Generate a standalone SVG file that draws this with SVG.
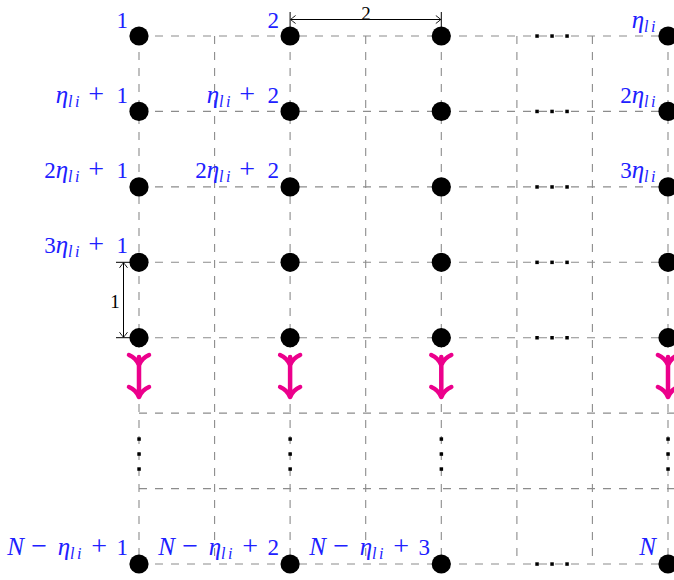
<svg xmlns="http://www.w3.org/2000/svg" width="674" height="580" viewBox="0 0 674 580">
<style>
.grid{stroke:#8c8c8c;stroke-width:1.1;stroke-dasharray:8 8;fill:none}
.node{fill:#000}
.lbl{font-family:"Liberation Serif",serif;font-size:23px;fill:#2020ff;text-anchor:end}
.it{font-style:italic;font-size:25px}
.op{font-size:28px}
.sub{font-style:italic;font-size:16px;letter-spacing:2.5px}
.dim{stroke:#000;stroke-width:1;fill:none}
.dlbl{font-family:"Liberation Serif",serif;font-size:19px;fill:#000;text-anchor:middle}
.arr{stroke:#ec008c;stroke-width:4.5;fill:none;stroke-linecap:round;stroke-linejoin:round}
.dot{fill:#000}
</style>
<defs>
<marker id="to" viewBox="-6 -5 8 10" markerWidth="8" markerHeight="10" refX="0" refY="0" orient="auto-start-reverse" markerUnits="userSpaceOnUse">
<path d="M-5,-4 Q-1,-1 0,0 Q-1,1 -5,4" stroke="#000" stroke-width="0.9" fill="none"/>
</marker>
</defs>
<g id="grid">
<path class="grid" d="M139,36H674M139,111.4H674M139,186.9H674M139,262.3H674M139,337.7H674M139,413.1H674M139,488.6H674M139,564H674"/>
<path class="grid" d="M139,36V564M214.6,36V564M290.1,36V564M365.7,36V564M441.3,36V564M516.9,36V564M592.4,36V564M668,36V564"/>
</g>
<g id="ellipses">
<rect class="dot" x="535.3" y="34.3" width="3.5" height="3.5"/><rect class="dot" x="550.3" y="34.3" width="3.5" height="3.5"/><rect class="dot" x="565.3" y="34.3" width="3.5" height="3.5"/>
<rect class="dot" x="535.3" y="109.7" width="3.5" height="3.5"/><rect class="dot" x="550.3" y="109.7" width="3.5" height="3.5"/><rect class="dot" x="565.3" y="109.7" width="3.5" height="3.5"/>
<rect class="dot" x="535.3" y="185.2" width="3.5" height="3.5"/><rect class="dot" x="550.3" y="185.2" width="3.5" height="3.5"/><rect class="dot" x="565.3" y="185.2" width="3.5" height="3.5"/>
<rect class="dot" x="535.3" y="260.6" width="3.5" height="3.5"/><rect class="dot" x="550.3" y="260.6" width="3.5" height="3.5"/><rect class="dot" x="565.3" y="260.6" width="3.5" height="3.5"/>
<rect class="dot" x="535.3" y="336" width="3.5" height="3.5"/><rect class="dot" x="550.3" y="336" width="3.5" height="3.5"/><rect class="dot" x="565.3" y="336" width="3.5" height="3.5"/>
<rect class="dot" x="535.3" y="562.3" width="3.5" height="3.5"/><rect class="dot" x="550.3" y="562.3" width="3.5" height="3.5"/><rect class="dot" x="565.3" y="562.3" width="3.5" height="3.5"/>
<rect class="dot" x="137.3" y="437.3" width="3.5" height="3.5"/><rect class="dot" x="137.3" y="452.3" width="3.5" height="3.5"/><rect class="dot" x="137.3" y="467.3" width="3.5" height="3.5"/>
<rect class="dot" x="288.4" y="437.3" width="3.5" height="3.5"/><rect class="dot" x="288.4" y="452.3" width="3.5" height="3.5"/><rect class="dot" x="288.4" y="467.3" width="3.5" height="3.5"/>
<rect class="dot" x="439.6" y="437.3" width="3.5" height="3.5"/><rect class="dot" x="439.6" y="452.3" width="3.5" height="3.5"/><rect class="dot" x="439.6" y="467.3" width="3.5" height="3.5"/>
<rect class="dot" x="666.3" y="437.3" width="3.5" height="3.5"/><rect class="dot" x="666.3" y="452.3" width="3.5" height="3.5"/><rect class="dot" x="666.3" y="467.3" width="3.5" height="3.5"/>
</g>
<g id="connectors">
<path class="arr" d="M139,357V395M129,355Q136,358 139,365Q142,358 149,355M129,387Q136,390 139,397Q142,390 149,387"/>
<path class="arr" d="M290.1,357V395M280.1,355Q287.1,358 290.1,365Q293.1,358 300.1,355M280.1,387Q287.1,390 290.1,397Q293.1,390 300.1,387"/>
<path class="arr" d="M441.3,357V395M431.3,355Q438.3,358 441.3,365Q444.3,358 451.3,355M431.3,387Q438.3,390 441.3,397Q444.3,390 451.3,387"/>
<path class="arr" d="M668,357V395M658,355Q665,358 668,365Q671,358 678,355M658,387Q665,390 668,397Q671,390 678,387"/>
</g>
<g id="dimensions">
<path class="dim" d="M290.1,12V27M441.3,12V27"/>
<path class="dim" d="M290.6,19.5H440.8" marker-start="url(#to)" marker-end="url(#to)"/>
<text class="dlbl" x="366" y="20">2</text>
<path class="dim" d="M116,262.3H131M116,337.7H131"/>
<path class="dim" d="M123.5,262.8V337.2" marker-start="url(#to)" marker-end="url(#to)"/>
<text class="dlbl" x="115" y="308">1</text>
</g>
<g id="n1"><circle class="node" cx="139" cy="36" r="9.6"/><text class="lbl" x="128" y="28">1</text></g>
<g id="n2"><circle class="node" cx="290.1" cy="36" r="9.6"/><text class="lbl" x="279" y="28">2</text></g>
<g id="n3"><circle class="node" cx="441.3" cy="36" r="9.6"/></g>
<g id="n4"><circle class="node" cx="668" cy="36" r="9.6"/><text class="lbl" x="658" y="28"><tspan class="it">η</tspan><tspan class="sub" dy="4">li</tspan></text></g>
<g id="n5"><circle class="node" cx="139" cy="111.4" r="9.6"/><text class="lbl" y="103"><tspan x="82"><tspan class="it">η</tspan><tspan class="sub" dy="4">li</tspan></tspan><tspan x="104" y="103" class="op">+</tspan><tspan x="128">1</tspan></text></g>
<g id="n6"><circle class="node" cx="290.1" cy="111.4" r="9.6"/><text class="lbl" y="103"><tspan x="233"><tspan class="it">η</tspan><tspan class="sub" dy="4">li</tspan></tspan><tspan x="255" y="103" class="op">+</tspan><tspan x="279">2</tspan></text></g>
<g id="n7"><circle class="node" cx="441.3" cy="111.4" r="9.6"/></g>
<g id="n8"><circle class="node" cx="668" cy="111.4" r="9.6"/><text class="lbl" x="658" y="103">2<tspan class="it">η</tspan><tspan class="sub" dy="4">li</tspan></text></g>
<g id="n9"><circle class="node" cx="139" cy="186.9" r="9.6"/><text class="lbl" y="178"><tspan x="82">2<tspan class="it">η</tspan><tspan class="sub" dy="4">li</tspan></tspan><tspan x="104" y="178" class="op">+</tspan><tspan x="128">1</tspan></text></g>
<g id="n10"><circle class="node" cx="290.1" cy="186.9" r="9.6"/><text class="lbl" y="178"><tspan x="233">2<tspan class="it">η</tspan><tspan class="sub" dy="4">li</tspan></tspan><tspan x="255" y="178" class="op">+</tspan><tspan x="279">2</tspan></text></g>
<g id="n11"><circle class="node" cx="441.3" cy="186.9" r="9.6"/></g>
<g id="n12"><circle class="node" cx="668" cy="186.9" r="9.6"/><text class="lbl" x="658" y="178">3<tspan class="it">η</tspan><tspan class="sub" dy="4">li</tspan></text></g>
<g id="n13"><circle class="node" cx="139" cy="262.3" r="9.6"/><text class="lbl" y="253"><tspan x="82">3<tspan class="it">η</tspan><tspan class="sub" dy="4">li</tspan></tspan><tspan x="104" y="253" class="op">+</tspan><tspan x="128">1</tspan></text></g>
<g id="n14"><circle class="node" cx="290.1" cy="262.3" r="9.6"/></g>
<g id="n15"><circle class="node" cx="441.3" cy="262.3" r="9.6"/></g>
<g id="n16"><circle class="node" cx="668" cy="262.3" r="9.6"/></g>
<g id="n17"><circle class="node" cx="139" cy="337.7" r="9.6"/></g>
<g id="n18"><circle class="node" cx="290.1" cy="337.7" r="9.6"/></g>
<g id="n19"><circle class="node" cx="441.3" cy="337.7" r="9.6"/></g>
<g id="n20"><circle class="node" cx="668" cy="337.7" r="9.6"/></g>
<g id="n21"><circle class="node" cx="139" cy="564" r="9.6"/><text class="lbl" y="555"><tspan x="24" class="it">N</tspan><tspan x="47" class="op">−</tspan><tspan x="84"><tspan class="it">η</tspan><tspan class="sub" dy="4">li</tspan></tspan><tspan x="107" y="555" class="op">+</tspan><tspan x="128">1</tspan></text></g>
<g id="n22"><circle class="node" cx="290.1" cy="564" r="9.6"/><text class="lbl" y="555"><tspan x="175" class="it">N</tspan><tspan x="198" class="op">−</tspan><tspan x="235"><tspan class="it">η</tspan><tspan class="sub" dy="4">li</tspan></tspan><tspan x="258" y="555" class="op">+</tspan><tspan x="279">2</tspan></text></g>
<g id="n23"><circle class="node" cx="441.3" cy="564" r="9.6"/><text class="lbl" y="555"><tspan x="326" class="it">N</tspan><tspan x="349" class="op">−</tspan><tspan x="386"><tspan class="it">η</tspan><tspan class="sub" dy="4">li</tspan></tspan><tspan x="409" y="555" class="op">+</tspan><tspan x="430">3</tspan></text></g>
<g id="n24"><circle class="node" cx="668" cy="564" r="9.6"/><text class="lbl" x="656" y="555"><tspan class="it">N</tspan></text></g>
</svg>
